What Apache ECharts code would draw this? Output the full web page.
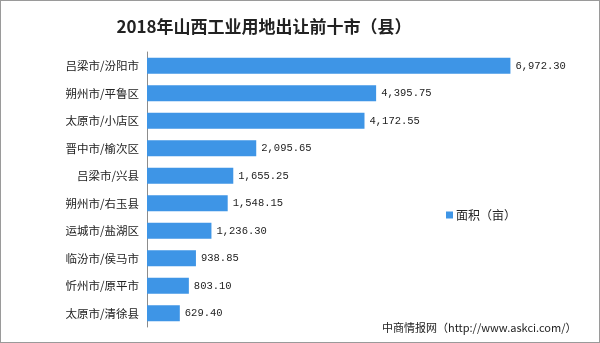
<!DOCTYPE html>
<html><head><meta charset="utf-8">
<script src="https://cdn.jsdelivr.net/npm/echarts@6/dist/echarts.min.js"></script>
<style>
html,body{margin:0;padding:0;background:#fff;}
#c{position:absolute;left:0;top:0;width:598px;height:341px;border:1px solid #9a9a9a;}
</style></head>
<body><div id="c"></div>
<script>
const categories = ['吕梁市/汾阳市','朔州市/平鲁区','太原市/小店区','晋中市/榆次区','吕梁市/兴县','朔州市/右玉县','运城市/盐湖区','临汾市/侯马市','忻州市/原平市','太原市/清徐县'];
const values = [6972.30, 4395.75, 4172.55, 2095.65, 1655.25, 1548.15, 1236.30, 938.85, 803.10, 629.40];
const seriesName = '面积（亩）';
const titleText = '2018年山西工业用地出让前十市（县）';
const sourceText = '中商情报网（http://www.askci.com/）';

function fmt(v){
  const p = v.toFixed(2).split('.');
  return p[0].replace(/\B(?=(\d{3})+(?!\d))/g, ',') + '.' + p[1];
}
const chart = echarts.init(document.getElementById('c'), null, {renderer:'canvas'});
chart.setOption({
  animation:false,
  backgroundColor:'#fff',
  title:{text:titleText,left:258,top:12,textAlign:'center',
    textStyle:{fontFamily:'Noto Sans CJK SC',fontSize:17,fontWeight:'bold',color:'#222'}},
  legend:{data:[seriesName],left:440,top:203,itemWidth:7,itemHeight:7,icon:'rect',itemGap:4,
    textStyle:{fontFamily:'Noto Sans CJK SC',fontSize:12,color:'#222',padding:[0,0,0,-2]}},
  grid:{left:146,top:51,right:35,bottom:15,containLabel:false},
  xAxis:{type:'value',min:0,max:8000,show:false},
  yAxis:{type:'category',data:categories,inverse:true,
    axisLine:{lineStyle:{color:'#8c8c8c'}},
    axisTick:{length:4,lineStyle:{color:'#8c8c8c'}},
    axisLabel:{fontFamily:'Noto Sans CJK SC',fontSize:11.5,color:'#222',margin:8}},
  series:[{name:seriesName,type:'bar',data:values,barWidth:16,
    itemStyle:{color:'#3e95e6'},
    label:{show:true,position:'right',distance:5,formatter:p=>fmt(p.value),
      fontFamily:'Liberation Mono',fontSize:10.5,color:'#222'}}],
  graphic:[{type:'text',left:381,top:321,style:{text:sourceText,font:'11px "Noto Sans CJK SC"',fill:'#222'}}]
});
</script></body></html>
